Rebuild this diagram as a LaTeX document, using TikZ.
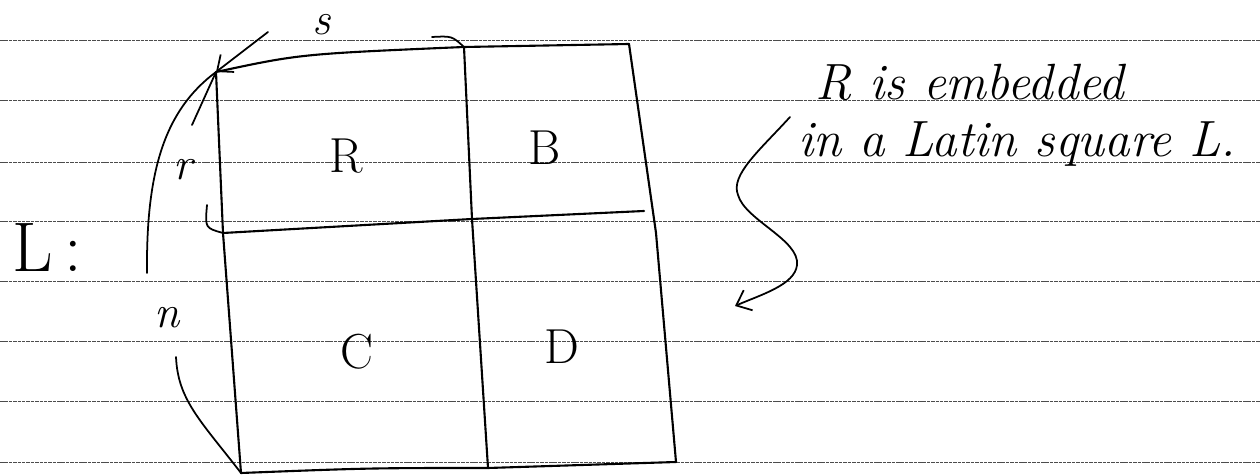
\documentclass[tikz,border=0pt]{standalone}
\usepackage{fontspec}
\usetikzlibrary{arrows.meta}

\begin{document}
\begin{tikzpicture}[
  x=0.02cm, y=-0.02cm,
  every node/.style={inner sep=0pt},
  cell/.style={font=\fontsize{28}{30}\selectfont},
  side/.style={font=\itshape\fontsize{26}{28}\selectfont},
  note/.style={font=\itshape\fontsize{29}{34}\selectfont, anchor=base west},
  pen/.style={draw, line width=1.2pt, line cap=round, line join=round},
  hand/.style={draw, line width=1pt, line cap=round,
    -{Straight Barb[length=2.6mm, width=4.4mm]}},
  ruled/.style={draw=black!70, line width=0.4pt, dash pattern=on 2pt off 0.5pt}
]

\path[use as bounding box, fill=white] (0,0) rectangle (1260,475);

% lined paper
\foreach \y in {40,100,162,221,281,341,401,462}
  \draw[ruled] (0,\y) -- (1260,\y);

% corners of L
\coordinate (tl) at (216,72);
\coordinate (tm) at (464,47);
\coordinate (tr) at (629,44);
\coordinate (ml) at (223,233);
\coordinate (mm) at (472,219);
\coordinate (mr) at (644,211);
\coordinate (rr) at (656,233);
\coordinate (bl) at (241,473);
\coordinate (bm) at (488,468);
\coordinate (br) at (676,462);

% the square
\draw[pen] (tl) .. controls (300,54) .. (tm) -- (tr);
\draw[pen] (tl) -- (ml) -- (bl);
\draw[pen] (tm) -- (mm) -- (bm);
\draw[pen] (tr) -- (rr) -- (br);
\draw[pen] (ml) -- (mm) -- (mr);
\draw[pen] (bl) .. controls (370,468) .. (bm) -- (br);

% blocks
\node[cell] (R) at (346,156) {R};
\node[cell] (B) at (545,148) {B};
\node[cell] (C) at (357,352) {C};
\node[cell] (D) at (562,347) {D};

% sides
\node[side] (s) at (322,25) {s};
\node[side] (r) at (183,170) {r};
\node[side] (n) at (167,318) {n};
\node[font=\fontsize{40}{44}\selectfont, anchor=base west] (L) at (12,272) {L\,:};

\coordinate (sa) at (268,32);
\coordinate (sb) at (432,37);
\coordinate (ra) at (192,125);
\coordinate (rb) at (207,205);
\coordinate (na) at (147,273);
\coordinate (nb) at (176,357);

\draw[hand] (sa) -- (tl);
\draw[pen, line width=1pt] (sb) .. controls (452,36) .. (tm);
\draw[pen, line width=1pt] (ra) -- (tl);
\draw[pen, line width=1pt] (rb) .. controls (205,228) .. (ml);
\draw[pen, line width=1pt] (na) .. controls (146,170) and (165,110) .. (tl);
\draw[pen, line width=1pt] (nb) .. controls (178,400) and (200,420) .. (bl);

% remark
\node[note] (emb) at (815,100) {R is embedded};
\node[note] (lat) at (798,157) {in a Latin square L.};

\coordinate (sq) at (790,117);
\coordinate (sqt) at (735,306);
\draw[hand] (sq) .. controls (760,150) and (730,175) .. (738,195)
  .. controls (745,220) and (800,240) .. (797,265)
  .. controls (795,285) and (760,295) .. (sqt);
\end{tikzpicture}
\end{document}
